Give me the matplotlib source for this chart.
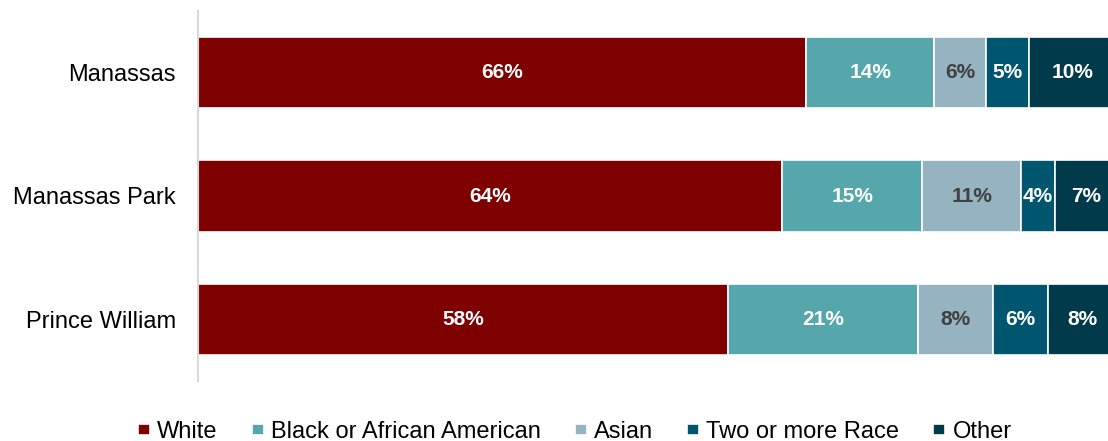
import numpy as np
import matplotlib.pyplot as plt

plt.rcParams['font.family'] = ['Liberation Sans', 'DejaVu Sans']

places = ['Manassas', 'Manassas Park', 'Prince William']
groups = ['White', 'Black or African American', 'Asian', 'Two or more Race', 'Other']
white = [66.2, 63.6, 57.7]
black = [13.9, 15.2, 20.7]
asian = [5.6, 10.8, 8.1]
two_more = [4.7, 3.6, 6.0]
other = [9.6, 7.0, 7.6]

colors = ['#7F0000', '#55A7AB', '#95B3C0', '#00566E', '#003A4B']
text_colors = ['white', 'white', '#404040', 'white', 'white']

fig = plt.figure(figsize=(11.08, 4.41), dpi=100)
# axes runs past the right edge of the figure, like the cropped original
ax = fig.add_axes([198 / 1108, 60 / 441, 919 / 1108, 370 / 441])

y = np.arange(len(places))
left = np.zeros(len(places))
for vals, name, c, tc in zip([white, black, asian, two_more, other], groups, colors, text_colors):
    bars = ax.barh(y, vals, left=left, height=0.58, color=c, edgecolor='white',
                   linewidth=1.2, label=name)
    ax.bar_label(bars, labels=[f'{v:.0f}%' for v in vals], label_type='center',
                 color=tc, fontsize=15, fontweight='bold')
    left += np.array(vals)

ax.set_xlim(0, 100)
ax.set_ylim(2.5, -0.5)
ax.set_yticks(y, places, fontsize=17)
ax.tick_params(axis='y', length=0, pad=16)
ax.set_xticks([])
for s in ['top', 'right', 'bottom']:
    ax.spines[s].set_visible(False)
ax.spines['left'].set_color('#D9D9D9')
ax.spines['left'].set_linewidth(1.5)

fig.legend(loc='center', bbox_to_anchor=(575 / 1108, 1 - 432 / 441), ncol=5,
           frameon=False, fontsize=17, handlelength=0.5, handleheight=0.35,
           handletextpad=0.3, columnspacing=1.45, borderpad=0)

fig.savefig('out.png', dpi=100)
